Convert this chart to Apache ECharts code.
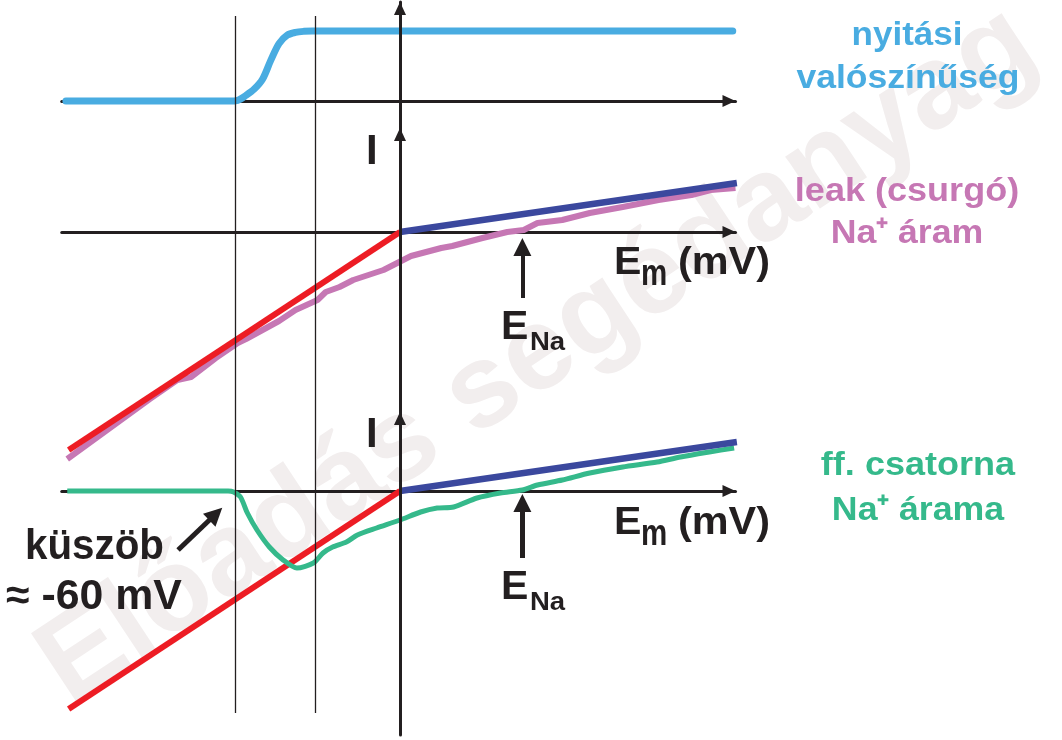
<!DOCTYPE html>
<html><head><meta charset="utf-8">
<script src="https://cdn.jsdelivr.net/npm/echarts@6/dist/echarts.min.js"></script>
<style>html,body{margin:0;padding:0;background:#fff}#c{width:1062px;height:740px}</style>
</head><body><div id="c"></div>
<script>
// ---- data (x: membrane potential Em in mV, y: arbitrary units) ----
const emRange = [-123, 122];
// opening probability (top panel)
const probE = [-121.5, -62, -59, -56, -53, -50, -47, -44, -41, -38, -35, -32, -29, 121];
const probP = [0, 0, 0.01, 0.08, 0.17, 0.31, 0.58, 0.82, 0.94, 0.98, 0.995, 1, 1, 1];
// driving-force lines (red below 0 mV, dark blue above)
const redE = [-120.5, 0];
const redI = [-109, 0];
const navyE = [0, 122.5];
const navyI = [0, 24.5];
// leak Na+ current (middle panel)
const leakE = [-121, -109, -91, -81, -76, -67, -59, -56, -48, -44, -38, -30, -27, -22, -17, -6, -1, 4, 15, 19, 30, 39, 45, 50, 59, 69, 81, 94, 106, 113, 122];
const leakI = [-113.5, -101.5, -83.5, -74, -72.5, -63, -55.5, -53.5, -47.5, -44.5, -39, -34, -30, -27.5, -24, -19, -15.5, -12, -8, -7, -3, 0, 1, 4.5, 6, 9.5, 12.5, 16, 18.5, 21, 22];
// voltage-gated channel Na+ current (bottom panel)
const chanE = [-121, -62.5, -60.5, -58, -55.5, -52, -47.5, -42.5, -37.5, -31.5, -28, -24.5, -19.5, -15.5, -8.5, 0, 7.5, 13.5, 19.5, 28, 36.5, 44.5, 50, 59, 69, 81, 93.5, 102, 112.5, 121.5];
const chanI = [0, 0, -0.5, -3, -11, -19.5, -28, -34.5, -38.5, -36, -31, -28, -25.5, -22, -18.5, -14.5, -10.5, -8.5, -8, -3.5, -1, 0.5, 3, 5.5, 9, 12, 14.5, 17, 19.5, 21.5];
// markers
const guideLinesE = [-60, -31];
const eNa = 44.5;
const eNaArrowMid = [-33, -7.5];
const eNaArrowBot = [-33.5, -6];
const thresholdArrowE = [-80.7, -67];
const thresholdArrowI = [-29.5, -11.5];

const zip = (a, b) => a.map((v, i) => [v, b[i]]);

const C = {
  blue: '#49ACE1', pink: '#C677B4', green: '#35B98B',
  red: '#ED1C24', navy: '#3B489E', black: '#231F20', wm: '#F2EEEE'
};
const FONT = '"Liberation Sans", Arial, sans-serif';

const gridBox = { left: 61.75, width: 673.75 };
const axisX = (i) => ({
  type: 'value', gridIndex: i, min: emRange[0], max: emRange[1], z: 1,
  axisLine: { show: i < 3, onZero: true, symbol: ['none', 'triangle'], symbolSize: [12, 13], symbolOffset: [0, -6.5],
    lineStyle: { color: C.black, width: 3 } },
  axisTick: { show: false }, axisLabel: { show: false }, splitLine: { show: false }
});
const axisY = (i, min, max) => ({
  type: 'value', gridIndex: i, min, max, z: 4,
  axisLine: { show: i < 3, onZero: true, symbol: ['none', 'triangle'], symbolSize: [12, 13], symbolOffset: [0, -6.5],
    lineStyle: { color: C.black, width: 3 } },
  axisTick: { show: false }, axisLabel: { show: false }, splitLine: { show: false }
});

const lineSeries = (name, xi, data, color, width, extra) => Object.assign({
  name, type: 'line', xAxisIndex: xi, yAxisIndex: xi, data, symbol: 'none', clip: false,
  lineStyle: { color, width, cap: 'butt', join: 'round' }, silent: true
}, extra || {});

const arrowMark = (pairs, width) => ({
  silent: true, symbol: ['none', 'triangle'], symbolSize: 18, animation: false,
  label: { show: false },
  lineStyle: { color: C.black, width, type: 'solid' },
  emphasis: { disabled: true },
  data: pairs
});

function txt(text, x, baseline, fs, color, align, sx, extra) {
  return Object.assign({
    type: 'text', x, y: baseline - 0.3465 * fs, scaleX: sx || 1, z: 100, silent: true,
    style: { text, fill: color, font: 'bold ' + fs + 'px ' + FONT, textAlign: align || 'left', textVerticalAlign: 'middle' }
  }, extra || {});
}

const option = {
  animation: false,
  backgroundColor: '#ffffff',
  grid: [
    Object.assign({ top: 2, height: 126 }, gridBox),
    Object.assign({ top: 128, height: 284 }, gridBox),
    Object.assign({ top: 412, height: 323 }, gridBox),
    Object.assign({ top: 16, height: 697 }, gridBox)
  ],
  xAxis: [axisX(0), axisX(1), axisX(2), axisX(3)],
  yAxis: [axisY(0, -0.3857, 1.4143), axisY(1, -90, 52), axisY(2, -122, 39.5), axisY(3, 0, 1)],
  series: [
    lineSeries('nyitási valószínűség', 0, zip(probE, probP), C.blue, 7, { smooth: 0.3, lineStyle: { color: C.blue, width: 7, cap: 'round', join: 'round' } }),
    lineSeries('leak Na+ áram', 1, zip(leakE, leakI), C.pink, 6),
    lineSeries('red1', 1, zip(redE, redI), C.red, 6),
    lineSeries('navy1', 1, zip(navyE, navyI), C.navy, 6.5, {
      markLine: arrowMark([[{ coord: [eNa, eNaArrowMid[0]] }, { coord: [eNa, eNaArrowMid[1]] }]], 4)
    }),
    lineSeries('red2', 2, zip(redE, redI), C.red, 6),
    lineSeries('ff. csatorna Na+ árama', 2, zip(chanE, chanI), C.green, 5, { smooth: 0.25 }),
    lineSeries('navy2', 2, zip(navyE, navyI), C.navy, 6.5, {
      markLine: arrowMark([
        [{ coord: [eNa, eNaArrowBot[0]] }, { coord: [eNa, eNaArrowBot[1]] }],
        [{ coord: [thresholdArrowE[0], thresholdArrowI[0]] }, { coord: [thresholdArrowE[1], thresholdArrowI[1]] }]
      ], 5)
    }),
    {
      name: 'guides', type: 'line', xAxisIndex: 3, yAxisIndex: 3, data: [], z: 3, silent: true,
      markLine: { silent: true, symbol: ['none', 'none'], label: { show: false }, animation: false,
        lineStyle: { color: C.black, width: 1.3, type: 'solid' },
        data: guideLinesE.map(v => ({ xAxis: v })) }
    }
  ],
  graphic: [
    { type: 'text', x: 538, y: 356, rotation: 33.5 * Math.PI / 180, z: -10, silent: true,
      style: { text: 'Előadás segédanyag', fill: C.wm, font: 'bold 118px ' + FONT, textAlign: 'center', textVerticalAlign: 'middle' } },
    txt('nyitási', 907, 47, 34, C.blue, 'center', 1.03),
    txt('valószínűség', 908, 90, 34, C.blue, 'center', 1.045),
    txt('leak (csurgó)', 907, 203, 34, C.pink, 'center', 1.06),
    txt('Na⁺ áram', 907, 245, 34, C.pink, 'center', 1.05),
    txt('ff. csatorna', 918, 477, 34, C.green, 'center', 1.06),
    txt('Na⁺ árama', 918, 522, 34, C.green, 'center', 1.05),
    txt('I', 366, 167, 42, C.black),
    txt('I', 366, 450, 42, C.black),
    txt('E', 614, 277, 38, C.black, 'left', 1.08),
    txt('m', 641, 288, 36, C.black, 'left', 0.82),
    txt('(mV)', 678, 277, 38, C.black, 'left', 1.09),
    txt('E', 614, 537, 38, C.black, 'left', 1.08),
    txt('m', 641, 548, 36, C.black, 'left', 0.82),
    txt('(mV)', 678, 537, 38, C.black, 'left', 1.09),
    txt('E', 501, 342, 41, C.black),
    txt('Na', 530, 352, 25, C.black, 'left', 1.1),
    txt('E', 501, 602, 41, C.black),
    txt('Na', 530, 612, 25, C.black, 'left', 1.1),
    txt('küszöb', 25, 562, 42, C.black, 'left', 0.96),
    txt('≈ -60 mV', 6, 612, 42, C.black, 'left', 1.02)
  ]
};

const chart = echarts.init(document.getElementById('c'), null, { renderer: 'canvas' });
chart.setOption(option);
</script>
</body></html>
